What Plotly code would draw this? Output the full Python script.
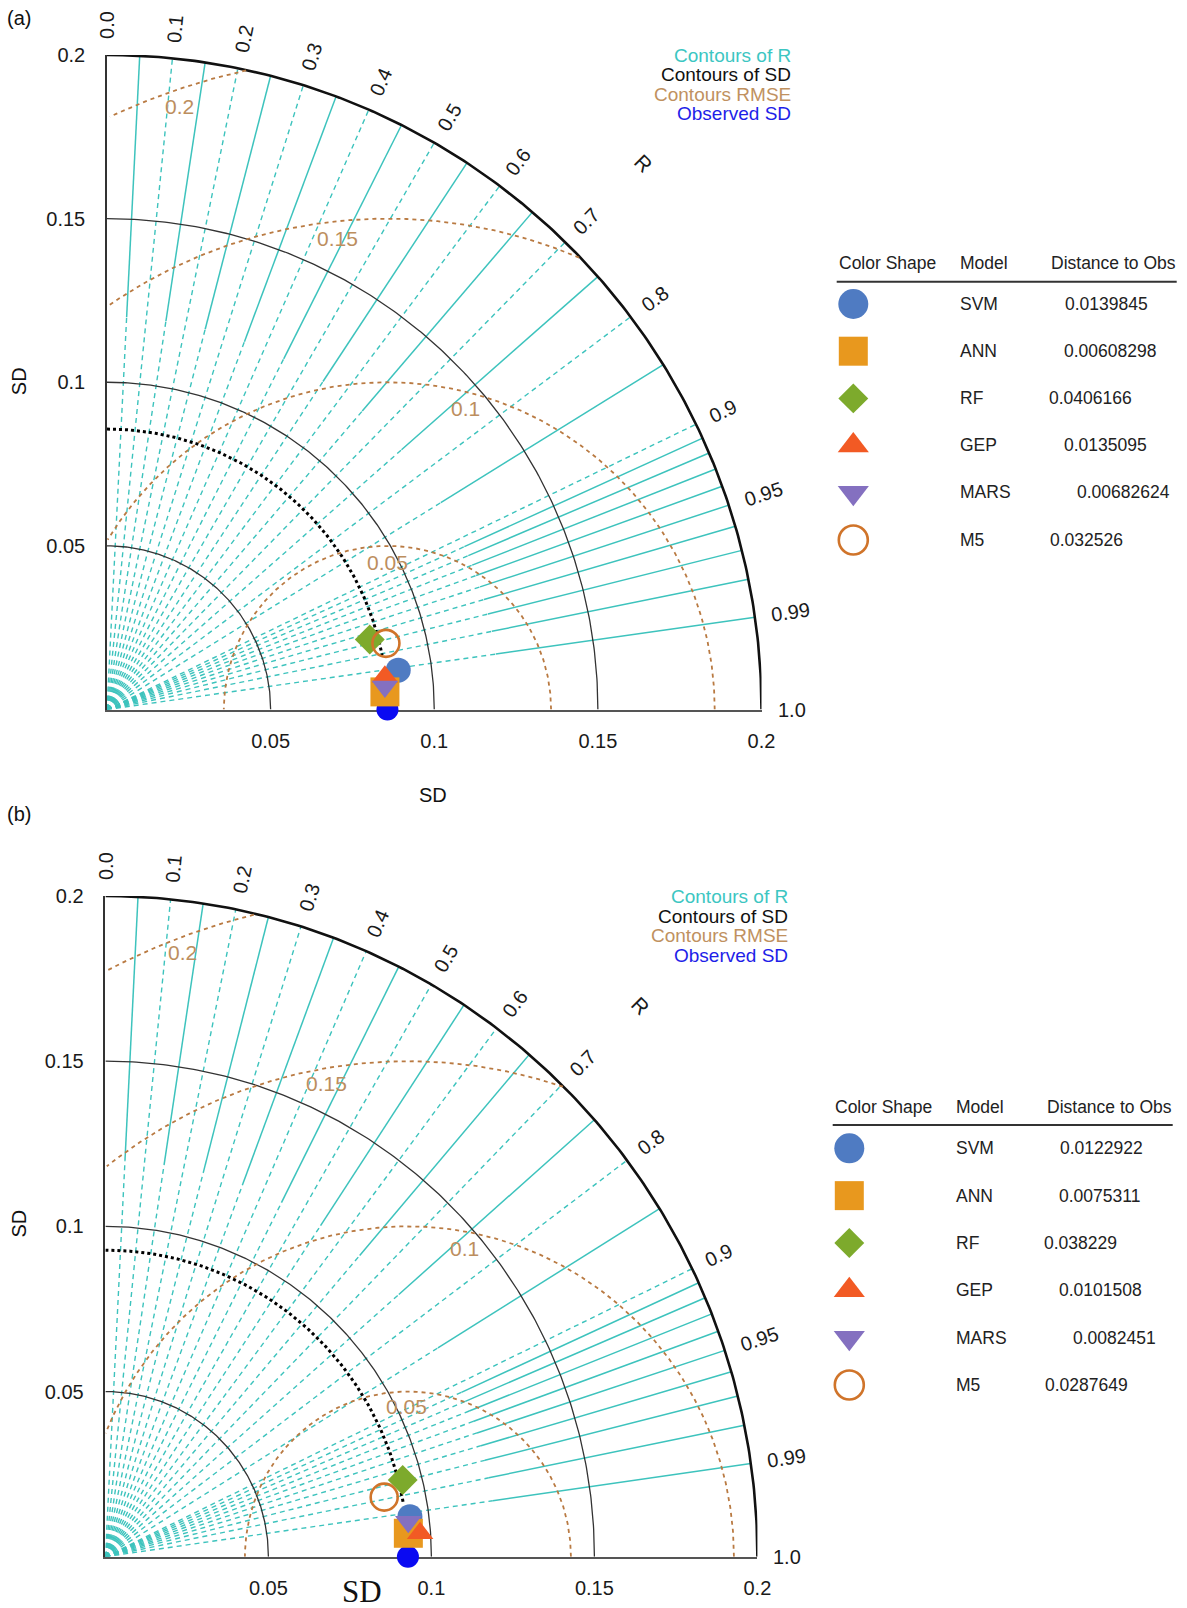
import numpy as np
import plotly.graph_objects as go

W, H = 1187, 1608

# ---------------- data ----------------
models = ["SVM", "ANN", "RF", "GEP", "MARS", "M5"]

# panel (a)
sd_a = [0.0898, 0.0851, 0.0831, 0.0855, 0.0852, 0.0876]
r_a = [0.9910, 0.9980, 0.9663, 0.9931, 0.9966, 0.9730]
obs_sd_a = 0.0857
obs_arc_end_r_a = 0.981
dist_a = ["0.0139845", "0.00608298", "0.0406166", "0.0135095", "0.00682624", "0.032526"]

# panel (b)
sd_b = [0.0942, 0.0932, 0.0941, 0.0968, 0.0935, 0.0874]
r_b = [0.9917, 0.9971, 0.9691, 0.9973, 0.9936, 0.9785]
obs_sd_b = 0.0928
obs_arc_end_r_b = 0.984
dist_b = ["0.0122922", "0.0075311", "0.038229", "0.0101508", "0.0082451", "0.0287649"]

sd_ticks = [0.05, 0.1, 0.15, 0.2]
sd_tick_text = ["0.05", "0.1", "0.15", "0.2"]
sd_contours = [0.05, 0.1, 0.15]
sd_max = 0.2

r_label_vals = [0.0, 0.1, 0.2, 0.3, 0.4, 0.5, 0.6, 0.7, 0.8, 0.9, 0.95, 0.99, 1.0]
r_label_text = ["0.0", "0.1", "0.2", "0.3", "0.4", "0.5", "0.6", "0.7", "0.8", "0.9", "0.95", "0.99", "1.0"]
r_major = [0.1, 0.2, 0.3, 0.4, 0.5, 0.6, 0.7, 0.8, 0.9]
r_minor = [0.05, 0.15, 0.25, 0.35, 0.45, 0.55, 0.65, 0.75, 0.85,
           0.91, 0.92, 0.93, 0.94, 0.95, 0.96, 0.97, 0.98, 0.99]
r_minor_inner = 0.12

rmse_levels = [0.05, 0.1, 0.15, 0.2]
rmse_text = ["0.05", "0.1", "0.15", "0.2"]

legend_lines = ["Contours of R", "Contours of SD", "Contours RMSE", "Observed SD"]

# ---------------- styles ----------------
FONT = "Liberation Sans, Arial, sans-serif"
CYAN = "#3DC3BD"
BROWN = "#B97A42"
BROWN_TXT = "#BC8E5E"
legend_colors = ["#3CC6C2", "#111111", "#C0915F", "#1E1EE8"]

mstyle = {
    "SVM": dict(symbol="circle", color="#4F7BC2", size=25, tsize=30),
    "ANN": dict(symbol="square", color="#E8981E", size=29, tsize=29),
    "RF": dict(symbol="diamond", color="#7DAA2C", size=23, tsize=23),
    "GEP": dict(symbol="triangle-up", color="#F25A24", size=23, tsize=27),
    "MARS": dict(symbol="triangle-down", color="#8470C0", size=23, tsize=27),
    "M5": dict(symbol="circle-open", color="#D0742A", size=27, tsize=29),
}

# pixel geometry of the two panels (origin x, origin y, x at 0.2, y at 0.2)
geo = {
    "a": dict(ox=107.0, oy=709.5, xe=761.5, ye=55.0),
    "b": dict(ox=105.4, oy=1556.7, xe=757.4, ye=896.0),
}
rmse_label_pos = {  # (angle deg around obs, radius fraction)
    "a": [(90, 0.90), (75.4, 0.95), (96, 0.965), (109, 0.975)],
    "b": [(90.6, 0.91), (79.5, 0.95), (99.9, 0.97), (110.7, 0.978)],
}
table_geo = {
    "a": dict(x0=836.7, head_y=263.3, line_y=281.7, rows=[304, 350.7, 398.3, 445, 492.3, 540],
              dist_dx=[226.6, 225.0, 210.0, 225.0, 238.3, 211.6], legend_x=793,
              legend_y=[55.4, 74.9, 94.4, 113.9], tag_y=18.5, ytitle_y=381.7),
    "b": dict(x0=832.7, head_y=1106.7, line_y=1125.0, rows=[1148.3, 1196, 1243.3, 1290, 1338.3, 1385],
              dist_dx=[225.6, 224.0, 209.0, 224.0, 238.0, 210.6], legend_x=790,
              legend_y=[896.7, 916.2, 935.7, 955.2], tag_y=813.6, ytitle_y=1224.0),
}


def px(x):
    return x / W


def py(y):
    return 1 - y / H


def to_paper(key, x, y):
    g = geo[key]
    return (px(g["ox"] + x / sd_max * (g["xe"] - g["ox"])),
            py(g["oy"] - y / sd_max * (g["oy"] - g["ye"])))


def pol(r, R):
    th = np.arccos(R)
    return r * np.cos(th), r * np.sin(th)


def note(x, y, text, size, color, family=FONT, angle=0, xanchor="center"):
    return dict(x=x, y=y, xref="paper", yref="paper", text=text, showarrow=False,
                xanchor=xanchor, yanchor="middle", textangle=angle,
                font=dict(family=family, size=size, color=color))


fig = go.Figure()
annotations = []
shapes = []

panels = [
    ("a", "x", "y", sd_a, r_a, obs_sd_a, obs_arc_end_r_a, dist_a, "x3", "y3"),
    ("b", "x2", "y2", sd_b, r_b, obs_sd_b, obs_arc_end_r_b, dist_b, "x4", "y4"),
]

for key, xa, ya, sds, rs, obs_sd, arc_end, dists, xt, yt in panels:
    g = geo[key]
    tg = table_geo[key]

    # correlation rays
    dx_, dy_ = [], []
    for R in r_major:
        x1, y1 = pol(sd_max, R)
        dx_ += [0, x1, None]
        dy_ += [0, y1, None]
    for R in r_minor:
        x1, y1 = pol(r_minor_inner, R)
        dx_ += [0, x1, None]
        dy_ += [0, y1, None]
    fig.add_trace(go.Scatter(x=dx_, y=dy_, xaxis=xa, yaxis=ya, mode="lines",
                             line=dict(color=CYAN, width=1.4, dash="5px,4px"),
                             hoverinfo="skip", showlegend=False, cliponaxis=False))
    sx_, sy_ = [], []
    for R in r_minor:
        x0, y0 = pol(r_minor_inner, R)
        x1, y1 = pol(sd_max, R)
        sx_ += [x0, x1, None]
        sy_ += [y0, y1, None]
    fig.add_trace(go.Scatter(x=sx_, y=sy_, xaxis=xa, yaxis=ya, mode="lines",
                             line=dict(color=CYAN, width=1.5),
                             hoverinfo="skip", showlegend=False, cliponaxis=False))

    # SD contours
    th = np.linspace(0, np.pi / 2, 200)
    cx, cy = [], []
    for s in sd_contours:
        cx += list(s * np.cos(th)) + [None]
        cy += list(s * np.sin(th)) + [None]
    fig.add_trace(go.Scatter(x=cx, y=cy, xaxis=xa, yaxis=ya, mode="lines",
                             line=dict(color="#333333", width=1.3),
                             hoverinfo="skip", showlegend=False, cliponaxis=False))
    fig.add_trace(go.Scatter(x=sd_max * np.cos(th), y=sd_max * np.sin(th), xaxis=xa, yaxis=ya,
                             mode="lines", line=dict(color="#111111", width=2.6),
                             hoverinfo="skip", showlegend=False, cliponaxis=False))

    # RMSE contours
    ph = np.linspace(0, np.pi, 600)
    rx, ry = [], []
    for lev in rmse_levels:
        xs = obs_sd + lev * np.cos(ph)
        ys = lev * np.sin(ph)
        ok = (xs >= 0) & (xs ** 2 + ys ** 2 <= sd_max ** 2 + 1e-12)
        rx += [float(a) if o else None for a, o in zip(xs, ok)] + [None]
        ry += [float(b) if o else None for b, o in zip(ys, ok)] + [None]
    fig.add_trace(go.Scatter(x=rx, y=ry, xaxis=xa, yaxis=ya, mode="lines",
                             line=dict(color=BROWN, width=1.8, dash="4px,4px"),
                             hoverinfo="skip", showlegend=False, cliponaxis=False,
                             connectgaps=False))
    for lev, txt, (ang, frac) in zip(rmse_levels, rmse_text, rmse_label_pos[key]):
        a = np.radians(ang)
        pxx, pyy = to_paper(key, obs_sd + lev * frac * np.cos(a), lev * frac * np.sin(a))
        annotations.append(note(pxx, pyy, txt, 21, BROWN_TXT))

    # observed SD arc
    ta = np.linspace(np.pi / 2, np.arccos(arc_end), 120)
    fig.add_trace(go.Scatter(x=obs_sd * np.cos(ta), y=obs_sd * np.sin(ta), xaxis=xa, yaxis=ya,
                             mode="lines", line=dict(color="#000000", width=3, dash="3px,3px"),
                             hoverinfo="skip", showlegend=False, cliponaxis=False))

    # observed point
    fig.add_trace(go.Scatter(x=[obs_sd], y=[0], xaxis=xa, yaxis=ya, mode="markers",
                             marker=dict(symbol="circle", size=22, color="#0A0AF2"),
                             hoverinfo="skip", showlegend=False, cliponaxis=False))
    # models
    for m, s, R in zip(models, sds, rs):
        st = mstyle[m]
        x1, y1 = pol(s, R)
        if st["symbol"].endswith("open"):
            mk = dict(symbol=st["symbol"], size=st["size"], color=st["color"],
                      line=dict(color=st["color"], width=2.6))
        else:
            mk = dict(symbol=st["symbol"], size=st["size"], color=st["color"], line=dict(width=0))
        fig.add_trace(go.Scatter(x=[x1], y=[y1], xaxis=xa, yaxis=ya, mode="markers",
                                 marker=mk, name=m, hoverinfo="name", showlegend=False,
                                 cliponaxis=False))

    # correlation labels
    for R, txt in zip(r_label_vals, r_label_text):
        rr = 0.2035 + 0.0019 * len(txt)
        x1, y1 = pol(rr, R)
        pxx, pyy = to_paper(key, x1, y1)
        annotations.append(note(pxx, pyy, txt, 20, "#1a1a1a",
                                angle=-float(np.degrees(np.arccos(R)))))
    x1, y1 = pol(0.234, np.cos(np.radians(45.5)))
    pxx, pyy = to_paper(key, x1, y1)
    annotations.append(note(pxx, pyy, "R", 21, "#1a1a1a", angle=45))

    # legend text
    for txt, col, yy in zip(legend_lines, legend_colors, tg["legend_y"]):
        annotations.append(note(px(tg["legend_x"]), py(yy), txt, 19, col, xanchor="right"))

    # panel tag and axis titles
    annotations.append(note(px(18.5), py(tg["tag_y"]), "(%s)" % key, 20, "#111"))
    annotations.append(note(px(18.5), py(tg["ytitle_y"]), "SD", 20, "#111", angle=-90))

    # table
    x0 = tg["x0"]
    for txt, dx in zip(["Color Shape", "Model", "Distance to Obs"], [0, 121.6, 212.6]):
        annotations.append(note(px(x0 + dx), py(tg["head_y"]), txt, 17.5, "#222",
                                xanchor="left"))
    shapes.append(dict(type="line", xref="paper", yref="paper", x0=px(x0), x1=px(x0 + 340),
                       y0=py(tg["line_y"]), y1=py(tg["line_y"]),
                       line=dict(color="#333", width=2)))
    for m, d, yy, ddx in zip(models, dists, tg["rows"], tg["dist_dx"]):
        annotations.append(note(px(x0 + 121.6), py(yy), m, 17.5, "#222", xanchor="left"))
        annotations.append(note(px(x0 + ddx), py(yy), d, 17.5, "#222", xanchor="left"))
    for i, m in enumerate(models):
        st = mstyle[m]
        if st["symbol"].endswith("open"):
            mk = dict(symbol=st["symbol"], size=st["tsize"], color=st["color"],
                      line=dict(color=st["color"], width=2.6))
        else:
            mk = dict(symbol=st["symbol"], size=st["tsize"], color=st["color"], line=dict(width=0))
        fig.add_trace(go.Scatter(x=[0.5], y=[i], xaxis=xt, yaxis=yt, mode="markers", marker=mk,
                                 name=m, hoverinfo="name", showlegend=False, cliponaxis=False))

# x-axis titles
annotations.append(note(px(433), py(795), "SD", 20, "#111"))
annotations.append(note(px(362), py(1591), "SD", 31, "#111",
                        family="Liberation Serif, Times New Roman, serif"))


def main_axes(g, anchor, isx):
    common = dict(range=[0, sd_max], tickvals=sd_ticks, ticktext=sd_tick_text, ticks="",
                  showgrid=False, zeroline=False, showline=True, anchor=anchor,
                  automargin=False, fixedrange=True,
                  layer="below traces", tickfont=dict(family=FONT, size=20, color="#1a1a1a"))
    if isx:
        common.update(domain=[px(g["ox"]), px(g["xe"])], linecolor="#555555", linewidth=2,
                      ticklabelstandoff=12)
    else:
        common.update(domain=[py(g["oy"]), py(g["ye"])], linecolor="#333333", linewidth=1.5,
                      ticklabelstandoff=16)
    return common


def table_axes(tg, anchor, isx):
    rows = tg["rows"]
    step = (rows[-1] - rows[0]) / (len(rows) - 1)
    if isx:
        xm = tg["x0"] + 16.6
        return dict(domain=[px(xm - 20), px(xm + 20)], range=[0, 1], visible=False,
                    anchor=anchor, automargin=False)
    return dict(domain=[py(rows[-1] + step / 2), py(rows[0] - step / 2)],
                range=[len(rows) - 0.5, -0.5], visible=False, anchor=anchor, automargin=False)


fig.update_layout(
    template="none",
    width=W, height=H, autosize=False,
    margin=dict(l=0, r=0, t=0, b=0, pad=0, autoexpand=False),
    paper_bgcolor="white", plot_bgcolor="rgba(0,0,0,0)",
    xaxis=main_axes(geo["a"], "y", True), yaxis=main_axes(geo["a"], "x", False),
    xaxis2=main_axes(geo["b"], "y2", True), yaxis2=main_axes(geo["b"], "x2", False),
    xaxis3=table_axes(table_geo["a"], "y3", True), yaxis3=table_axes(table_geo["a"], "x3", False),
    xaxis4=table_axes(table_geo["b"], "y4", True), yaxis4=table_axes(table_geo["b"], "x4", False),
    annotations=annotations, shapes=shapes, showlegend=False,
)

fig.write_html("out.html", config={"displayModeBar": False})
